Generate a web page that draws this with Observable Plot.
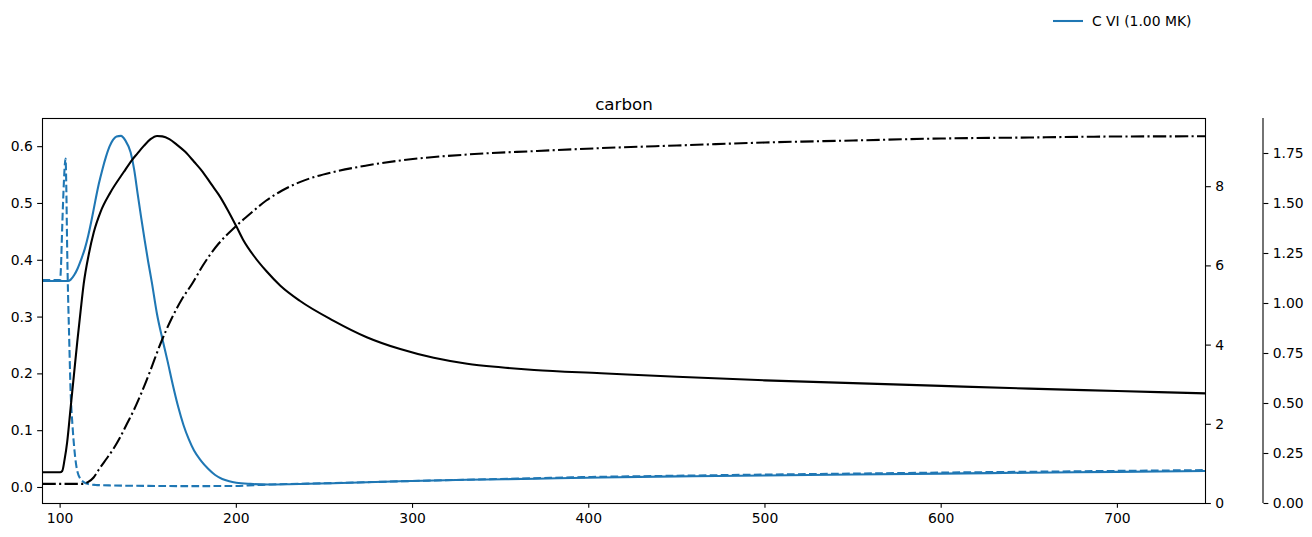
<!DOCTYPE html>
<html>
<head>
<meta charset="utf-8">
<script src="https://cdn.jsdelivr.net/npm/d3@7"></script>
<script src="https://cdn.jsdelivr.net/npm/@observablehq/plot@0.6"></script>
<style>
  html, body { margin: 0; padding: 0; background: white; }
  #wrap { position: relative; width: 1312px; height: 537px; font-family: "DejaVu Sans", sans-serif; }
  #legend { position: absolute; left: 1053px; top: 12px; display: flex; align-items: center; font-size: 13.9px; color: black; }
  #legend span { margin-left: 9px; }
</style>
</head>
<body>
<div id="wrap">
  <div id="chart"></div>
  <div id="legend"></div>
</div>
<script>
// ---- data ----
const chartTitle = "carbon";
const legendLabel = "C VI (1.00 MK)";

const xTicks = [100, 200, 300, 400, 500, 600, 700];
const leftTicks = [0.0, 0.1, 0.2, 0.3, 0.4, 0.5, 0.6];
const right1Ticks = [0, 2, 4, 6, 8];
const right2Ticks = [0.00, 0.25, 0.50, 0.75, 1.00, 1.25, 1.50, 1.75];

// blue solid (left axis)
const blueSolidX = [90,100,104.5,106,108,110,112,114,116,118,120,122,124,126,128,130,132,134.5,137,140,142,144,146,148,150,152,155,158,161,164,167,170,173,176,180,184,188,192,196,200,208,218,230,255,293,331,370,407,450,500,550,600,650,700,750];
const blueSolidY = [0.3635,0.3635,0.3635,0.366,0.374,0.386,0.402,0.42,0.444,0.473,0.505,0.535,0.56,0.582,0.6,0.612,0.618,0.619,0.611,0.59,0.56,0.517,0.475,0.435,0.397,0.362,0.305,0.262,0.222,0.18,0.142,0.11,0.085,0.065,0.047,0.033,0.022,0.015,0.011,0.0085,0.0063,0.0053,0.0057,0.0076,0.011,0.0135,0.0155,0.0176,0.0195,0.0212,0.0228,0.0244,0.026,0.0275,0.029];

// blue dashed (left axis)
const blueDashX = [90,100,100.5,101.2,102.1,102.7,103.1,103.5,104,104.5,105,106,107,108,109,110,111.5,113.4,116,120,130,150,175,200,210,220,250,300,350,400,450,500,550,600,650,700,750];
const blueDashY = [0.365,0.365,0.39,0.46,0.535,0.57,0.579,0.53,0.42,0.34,0.28,0.165,0.11,0.07,0.042,0.026,0.015,0.0094,0.006,0.0045,0.0035,0.0028,0.0024,0.0027,0.004,0.0053,0.0074,0.0114,0.015,0.0184,0.0207,0.0227,0.0245,0.0262,0.0277,0.0292,0.0306];

// black solid (first right axis)
const blackX = [90,100,101.2,102.5,104,105.9,107.8,109.7,111.6,113.4,116.3,119.1,122.9,128.6,136.1,140.9,143.7,147.5,151.3,155,158,162,166,171,176,181,186,190,195,200,204,210,217,225,236,255,274,293,312,331,350,369,407,450,500,550,600,650,700,750];
const blackY = [0.79,0.79,0.82,1.1,1.55,2.39,3.23,4.07,4.85,5.55,6.3,6.85,7.36,7.86,8.37,8.68,8.83,9.03,9.2,9.28,9.27,9.2,9.07,8.88,8.63,8.37,8.05,7.8,7.42,7.0,6.65,6.25,5.87,5.5,5.12,4.62,4.2,3.9,3.68,3.53,3.44,3.37,3.29,3.2,3.11,3.04,2.97,2.9,2.84,2.78];

// black dash-dot (second right axis)
const dashDotX = [90,113,116,119,122,126,130,134,138,142,146,151,157,163,169,175,181,190,199,208,217,226,236,255,274,293,331,369,407,450,500,550,600,650,700,750];
const dashDotY = [0.098,0.098,0.108,0.13,0.17,0.22,0.27,0.33,0.4,0.47,0.55,0.66,0.8,0.92,1.02,1.1,1.19,1.3,1.38,1.45,1.515,1.565,1.607,1.657,1.69,1.715,1.745,1.762,1.777,1.79,1.805,1.815,1.825,1.83,1.835,1.836];

// ---- scales ----
const xDomain = [90, 750];
const leftDomain = [-0.0282, 0.6496];
const right1Domain = [0, 9.722];
const right2Domain = [0, 1.925];

const toLeft = dom => v => leftDomain[0] + (v - dom[0]) / (dom[1] - dom[0]) * (leftDomain[1] - leftDomain[0]);
const fromLeft = dom => u => dom[0] + (u - leftDomain[0]) / (leftDomain[1] - leftDomain[0]) * (dom[1] - dom[0]);
const toR1 = toLeft(right1Domain), fromR1 = fromLeft(right1Domain);
const toR2 = toLeft(right2Domain), fromR2 = fromLeft(right2Domain);

const rows = (xs, ys) => xs.map((x, i) => ({x, v: ys[i]}));
const blueSolid = rows(blueSolidX, blueSolidY);
const blueDash = rows(blueDashX, blueDashY);
const black = rows(blackX, blackY);
const dashDot = rows(dashDotX, dashDotY);

const BLUE = "#1f77b4";
const LW = 2.08;
const TS = 4.86, TP = 4.86;

const chart = Plot.plot({
  width: 1312,
  height: 537,
  marginLeft: 42,
  marginRight: 107,
  marginTop: 118,
  marginBottom: 34,
  style: {fontFamily: "DejaVu Sans", fontSize: "13.9px", color: "black", background: "white", overflow: "visible"},
  x: {domain: xDomain},
  y: {domain: leftDomain},
  marks: [
    Plot.line(blueSolid, {x: "x", y: "v", stroke: BLUE, strokeWidth: LW, strokeLinecap: "butt", curve: "monotone-x"}),
    Plot.line(blueDash, {x: "x", y: "v", stroke: BLUE, strokeWidth: LW, strokeLinecap: "butt", strokeDasharray: "7.7,3.33", curve: "monotone-x"}),
    Plot.line(black, {x: "x", y: d => toR1(d.v), stroke: "black", strokeWidth: LW, strokeLinecap: "butt", curve: "monotone-x"}),
    Plot.line(dashDot, {x: "x", y: d => toR2(d.v), stroke: "black", strokeWidth: LW, strokeLinecap: "butt", strokeDasharray: "13.3,3.33,2.08,3.33", curve: "monotone-x"}),
    Plot.frame({stroke: "black", strokeWidth: 1.1}),
    Plot.axisX({ticks: xTicks, tickFormat: d => String(d), tickSize: TS, tickPadding: TP, strokeWidth: 1.1, label: null}),
    Plot.axisY({anchor: "left", ticks: leftTicks, tickFormat: d3.format(".1f"), tickSize: TS, tickPadding: TP, strokeWidth: 1.1, label: null}),
    Plot.axisY({anchor: "right", ticks: right1Ticks.map(toR1), tickFormat: d => String(Math.round(fromR1(d))), tickSize: TS, tickPadding: TP, strokeWidth: 1.1, label: null}),
    Plot.axisY({anchor: "right", dx: 57.5, ticks: right2Ticks.map(toR2), tickFormat: d => fromR2(d).toFixed(2), tickSize: TS, tickPadding: TP, strokeWidth: 1.1, label: null}),
    Plot.ruleX([xDomain[1]], {dx: 57.5, y1: leftDomain[0], y2: leftDomain[1], stroke: "black", strokeWidth: 1.1}),
    Plot.text([chartTitle], {frameAnchor: "top", dy: -20, fontSize: 16.7, fill: "black"})
  ]
});
document.getElementById("chart").appendChild(chart);

const legend = document.getElementById("legend");
legend.innerHTML = `<svg width="30" height="18"><line x1="0" y1="9" x2="30" y2="9" stroke="${BLUE}" stroke-width="${LW}"/></svg><span></span>`;
legend.querySelector("span").textContent = legendLabel;
</script>
</body>
</html>
